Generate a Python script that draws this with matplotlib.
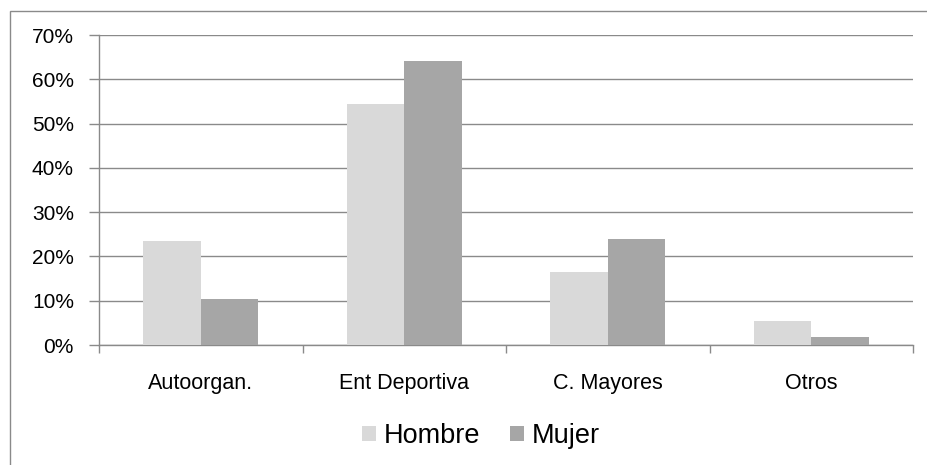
import matplotlib
matplotlib.use('Agg')
from matplotlib import pyplot as plt
from matplotlib.patches import Rectangle
from matplotlib.ticker import PercentFormatter, FixedLocator
import numpy as np

plt.rcParams['font.family'] = ['Liberation Sans', 'DejaVu Sans']

categories = ['Autoorgan.', 'Ent Deportiva', 'C. Mayores', 'Otros']
hombre = [23.5, 54.5, 16.4, 5.5]
mujer = [10.3, 64.2, 23.9, 1.7]
series_names = ['Hombre', 'Mujer']
yticks = [0, 10, 20, 30, 40, 50, 60, 70]

grid_col = '#8a8a8a'
col_h = '#d9d9d9'
col_m = '#a6a6a6'

fig = plt.figure(figsize=(9.28, 4.65), dpi=100)
ax = fig.add_axes([99 / 928, 1 - 345 / 465, (913 - 99) / 928, (345 - 35) / 465])

# outer chart border (cut off at right and bottom like the original)
fig.patches.append(Rectangle((10 / 928, -0.1), 1.2, 1 - 11.5 / 465 + 0.1,
                             transform=fig.transFigure, fill=False,
                             edgecolor=grid_col, linewidth=1.0))

x = np.arange(len(categories))
w = 0.283
ax.bar(x - w / 2, hombre, w, color=col_h, label=series_names[0], zorder=3)
ax.bar(x + w / 2, mujer, w, color=col_m, label=series_names[1], zorder=3)

ax.set_xlim(-0.5, len(categories) - 0.5)
ax.set_ylim(0, 70)
ax.set_yticks(yticks)
ax.yaxis.set_major_formatter(PercentFormatter(decimals=0))
ax.yaxis.grid(True, color=grid_col, linewidth=1.0, zorder=0)
ax.set_axisbelow(True)

# category labels centered, tick marks at boundaries
ax.set_xticks(x)
ax.set_xticklabels(categories)
ax.tick_params(axis='x', which='major', length=0, pad=20, labelsize=15.5)
ax.xaxis.set_minor_locator(FixedLocator(np.arange(-0.5, len(categories), 1.0)))
ax.tick_params(axis='x', which='minor', length=6, width=1.0, color=grid_col)
ax.tick_params(axis='y', length=7, width=1.0, color=grid_col, pad=11, labelsize=15)

for s in ['top', 'right']:
    ax.spines[s].set_visible(False)
for s in ['left', 'bottom']:
    ax.spines[s].set_color(grid_col)
    ax.spines[s].set_linewidth(1.0)

leg = fig.legend(loc='center', bbox_to_anchor=(481 / 928, 1 - 436 / 465), ncol=2,
                 frameon=False, fontsize=19.5, handlelength=0.5, handleheight=0.5,
                 handletextpad=0.3, columnspacing=1.1)

plt.savefig('out.png', dpi=100)
